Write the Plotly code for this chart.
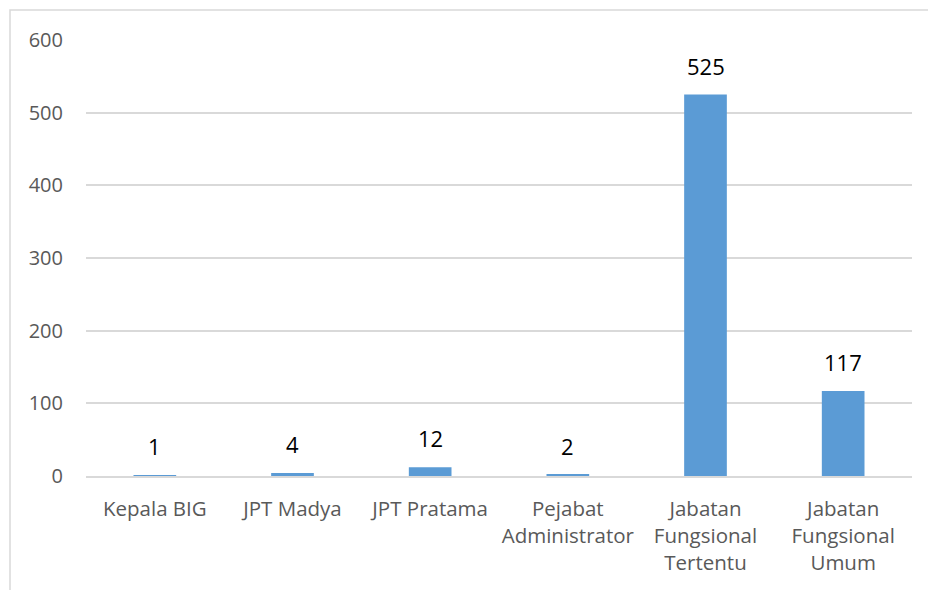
import plotly.graph_objects as go

categories = [
    "Kepala BIG",
    "JPT Madya",
    "JPT Pratama",
    "Pejabat<br>Administrator",
    "Jabatan<br>Fungsional<br>Tertentu",
    "Jabatan<br>Fungsional<br>Umum",
]
values = [1, 4, 12, 2, 525, 117]
y_ticks = [0, 100, 200, 300, 400, 500, 600]

BAR_COLOR = "#5B9BD5"
GRID_COLOR = "#D9D9D9"
FONT = "Open Sans"

fig = go.Figure(
    go.Bar(
        x=categories,
        y=values,
        marker=dict(color=BAR_COLOR, line=dict(width=0)),
        width=0.31,
        hoverinfo="x+y",
    )
)

# value labels above each bar
for c, v in zip(categories, values):
    fig.add_annotation(
        x=c, y=v, text=str(v), showarrow=False,
        yanchor="bottom", yshift=12,
        font=dict(family=FONT, size=22, color="#000000"),
    )

# outer chart border
fig.add_shape(
    type="rect", xref="paper", yref="paper",
    x0=(10 - 86) / 826, x1=1.2, y0=-0.5, y1=(476 - 10) / 436,
    line=dict(color=GRID_COLOR, width=1.5), fillcolor="rgba(0,0,0,0)",
    layer="below",
)

fig.update_layout(
    width=928, height=590,
    margin=dict(l=86, r=16, t=40, b=114),
    paper_bgcolor="white", plot_bgcolor="white",
    showlegend=False,
    font=dict(family=FONT, size=20, color="#595959"),
    xaxis=dict(
        showgrid=False, showline=True, linecolor=GRID_COLOR, linewidth=1.5,
        ticks="", tickfont=dict(size=20.5, color="#595959"),
        ticklabelstandoff=14,
    ),
    yaxis=dict(
        range=[0, 600], tickvals=y_ticks,
        showgrid=True, gridcolor=GRID_COLOR, gridwidth=1.5,
        zeroline=False, showline=False, ticks="",
        tickfont=dict(size=20, color="#595959"),
        ticklabelstandoff=22,
    ),
)

fig.write_html("out.html")
